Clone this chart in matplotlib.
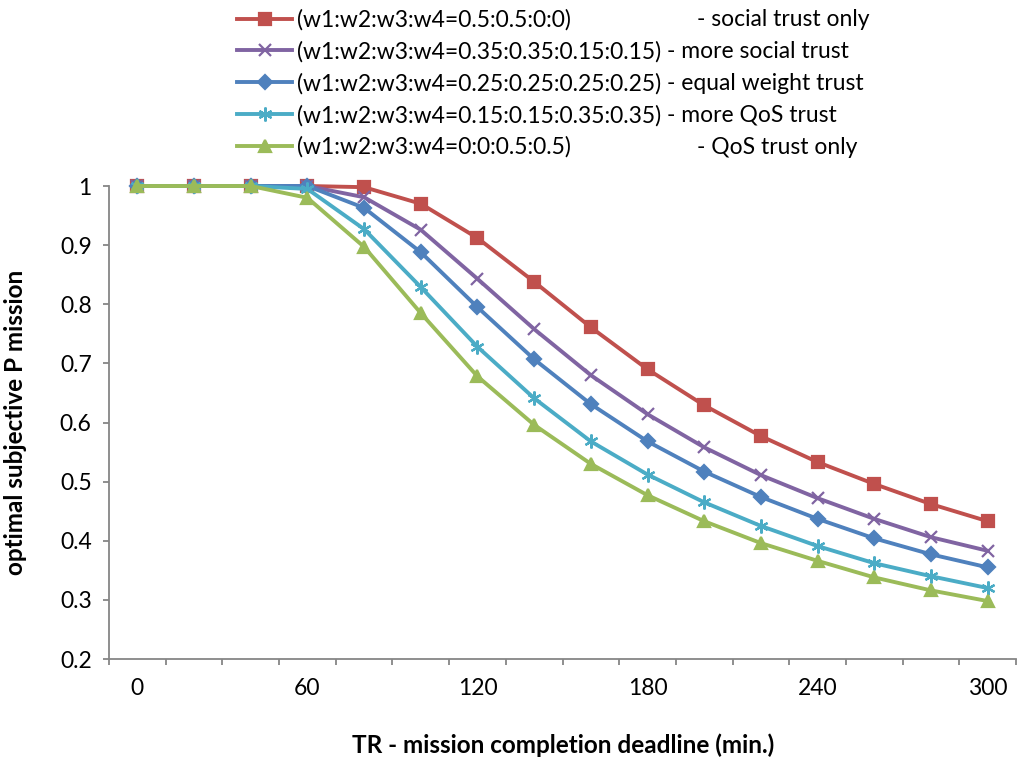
import numpy as np
import matplotlib.pyplot as plt
from matplotlib.ticker import FixedLocator, FuncFormatter

plt.rcParams['font.family'] = ['Lato', 'DejaVu Sans']

# deadline categories (min.)
deadline = [0, 20, 40, 60, 80, 100, 120, 140, 160, 180, 200, 220, 240, 260, 280, 300]

p_social_only = [1, 1, 1, 1, 0.998, 0.970, 0.912, 0.838, 0.761, 0.690, 0.629, 0.577, 0.533, 0.496, 0.462, 0.433]
p_more_social = [1, 1, 1, 1, 0.981, 0.926, 0.843, 0.758, 0.680, 0.614, 0.558, 0.511, 0.472, 0.437, 0.406, 0.383]
p_equal = [1, 1, 1, 1, 0.963, 0.888, 0.795, 0.707, 0.631, 0.568, 0.517, 0.474, 0.437, 0.404, 0.377, 0.355]
p_more_qos = [1, 1, 1, 0.995, 0.927, 0.829, 0.728, 0.641, 0.568, 0.512, 0.465, 0.425, 0.391, 0.362, 0.340, 0.320]
p_qos_only = [1, 1, 1, 0.980, 0.897, 0.785, 0.678, 0.596, 0.530, 0.477, 0.433, 0.396, 0.366, 0.338, 0.316, 0.298]

weights = ["(w1:w2:w3:w4=0.5:0.5:0:0)",
           "(w1:w2:w3:w4=0.35:0.35:0.15:0.15)",
           "(w1:w2:w3:w4=0.25:0.25:0.25:0.25)",
           "(w1:w2:w3:w4=0.15:0.15:0.35:0.35)",
           "(w1:w2:w3:w4=0:0:0.5:0.5)"]
descr = ["- social trust only", "- more social trust", "- equal weight trust",
         "- more QoS trust", "- QoS trust only"]

series = [p_social_only, p_more_social, p_equal, p_more_qos, p_qos_only]
kleurid = ["#C0504D", "#8064A2", "#4F81BD", "#4BACC6", "#9BBB59"]
markerid = ["s", "x", "D", (6, 2, 0), "^"]
msuurus = [8, 9, 7, 10, 8]

fig = plt.figure(figsize=(10.17, 7.61), dpi=100)
ax = fig.add_axes([109/1017, 1-659/761, 907/1017, (659-186)/761])

x = np.arange(len(deadline))
for y, c, m, ms, lab in zip(series, kleurid, markerid, msuurus, weights):
    ax.plot(x, y, color=c, lw=2.8, marker=m, ms=ms, mew=1.6, mec=c, mfc=c,
            label=lab, clip_on=False, zorder=3)

ax.set_xlim(-0.5, len(deadline) - 0.5)
ax.set_ylim(0.2, 1.0)

# category axis: ticks on the boundaries, labels every 3rd category
ax.xaxis.set_major_locator(FixedLocator(np.arange(-0.5, len(deadline), 1)))
ax.xaxis.set_major_formatter(FuncFormatter(lambda v, p: ""))
ax.xaxis.set_minor_locator(FixedLocator(x[::3]))
ax.xaxis.set_minor_formatter(FuncFormatter(lambda v, p: str(deadline[int(round(v))])))
ax.tick_params(axis='x', which='major', length=4.5, width=1.3, color="#868686", direction='out')
ax.tick_params(axis='x', which='minor', length=0, labelsize=16.5, pad=14)

ax.set_yticks(np.arange(0.2, 1.01, 0.1))
ax.yaxis.set_major_formatter(FuncFormatter(lambda v, p: f"{v:g}" if abs(v - 1) > 1e-9 else "1"))
ax.tick_params(axis='y', length=4.5, width=1.3, color="#868686", labelsize=16.5, pad=8)

for s in ["top", "right"]:
    ax.spines[s].set_visible(False)
for s in ["left", "bottom"]:
    ax.spines[s].set_color("#868686")
    ax.spines[s].set_linewidth(1.3)

fig.text(16/1017, 1-422/761, "optimal subjective P mission", fontsize=17.5,
         fontweight="bold", rotation=90, ha="center", va="center")
fig.text(563/1017, 1-745/761, "TR - mission completion deadline (min.)", fontsize=17.5,
         fontweight="bold", ha="center", va="center")

leg = fig.legend(loc="upper left", bbox_to_anchor=(228/1017, 1.0), frameon=False,
                 fontsize=16.5, handlelength=2.4, handletextpad=0.2, labelspacing=0.45,
                 borderaxespad=0.0)

# second legend column with the descriptions
fig.canvas.draw()
rend = fig.canvas.get_renderer()
for i, t in enumerate(leg.get_texts()):
    bb = t.get_window_extent(rend)
    yk = (bb.y0 + bb.y1) / 2 / fig.bbox.height
    if i in (0, 4):
        xk = 697 / 1017
    else:
        xk = (bb.x1 + 6) / fig.bbox.width
    fig.text(xk, yk, descr[i], fontsize=16.5, ha="left", va="center")

fig.savefig("out.png", dpi=100)
